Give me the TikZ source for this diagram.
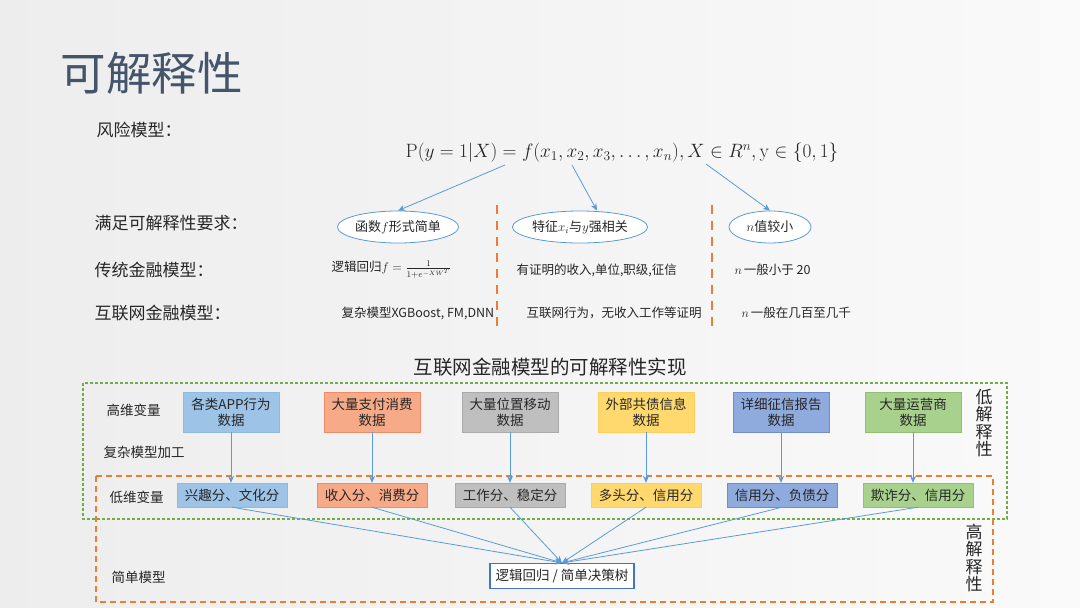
\RequirePackage{fix-cm}
\documentclass[tikz,border=0pt]{standalone}
\usepackage[no-math]{fontspec}
\setmainfont{Noto Sans CJK SC}
\setsansfont{Noto Sans CJK SC}
\usepackage{amsmath,amssymb}
\usetikzlibrary{arrows.meta,shapes.geometric,positioning}

\definecolor{titlegray}{RGB}{68,84,106}
\definecolor{linkblue}{RGB}{91,155,213}
\definecolor{dashorange}{RGB}{237,125,49}
\definecolor{dashgreen}{RGB}{112,173,71}
\definecolor{framedblue}{RGB}{68,114,196}
\definecolor{skyfill}{RGB}{157,195,230}   \definecolor{skyedge}{RGB}{143,184,226}
\definecolor{peachfill}{RGB}{246,170,135} \definecolor{peachedge}{RGB}{240,140,100}
\definecolor{greyfill}{RGB}{191,191,191}  \definecolor{greyedge}{RGB}{170,170,170}
\definecolor{sunfill}{RGB}{255,217,110}   \definecolor{sunedge}{RGB}{255,205,90}
\definecolor{navyfill}{RGB}{143,170,220}  \definecolor{navyedge}{RGB}{112,140,205}
\definecolor{leaffill}{RGB}{169,209,142}  \definecolor{leafedge}{RGB}{145,192,115}

\begin{document}
\begin{tikzpicture}[x=1pt,y=-1pt,
    every node/.style={text=black!85},
    rowlabel/.style={anchor=west, font=\fontsize{17}{20}\selectfont},
    sidelabel/.style={anchor=west, font=\fontsize{13.5}{16}\selectfont},
    cell/.style={font=\fontsize{12.5}{15}\selectfont},
    goal/.style={ellipse, draw=linkblue, thick, fill=white, minimum height=32pt, inner sep=0pt, font=\fontsize{13}{15}\selectfont},
    rawbox/.style={rectangle, fill=#1fill, draw=#1edge, minimum width=96pt, minimum height=40pt, align=center, inner sep=1pt, font=\fontsize{13.5}{16}\selectfont},
    scorebox/.style={rectangle, fill=#1fill, draw=#1edge, minimum width=110pt, minimum height=24pt, inner sep=1pt, font=\fontsize{13.5}{16}\selectfont},
    vtext/.style={align=center, font=\fontsize{17}{17.5}\selectfont},
    link/.style={-{Stealth[length=7pt,width=6pt]}, linkblue, line width=0.8pt},
    sep/.style={dashorange, line width=1.5pt, dash pattern=on 9pt off 7pt}
]
% background
\shade[left color=gray!14, right color=gray!4] (0,0) rectangle (1080,608);
\useasboundingbox (0,0) rectangle (1080,608);

% header
\node[anchor=west, text=titlegray, font=\fontsize{45.5}{50}\selectfont] (title) at (57,73) {可解释性};
\node[anchor=west, font=\fontsize{17}{20}\selectfont] (risk) at (93,130) {风险模型：};
\node[font=\fontsize{19.3}{23}\selectfont] (formula) at (622,153)
  {$\mathrm{P}(y=1|X)=f(x_1,x_2,x_3,\ldots,x_n),X\in R^n,\mathrm{y}\in\{0,1\}$};

% three requirements
\node[goal, minimum width=112pt] (g1) at (398,227) {函数$f$形式简单};
\node[goal, minimum width=128pt] (g2) at (580,227) {特征$x_i$与$y$强相关};
\node[goal, minimum width=82pt]  (g3) at (770,227) {$n$值较小};

\coordinate (f1) at (505,165);
\coordinate (f2) at (572,165);
\coordinate (f3) at (706,164);
\draw[link] (f1) -- (g1.north);
\draw[link] (f2) -- ([xshift=17pt]g2.north);
\draw[link] (f3) -- (g3.north);

\node[rowlabel] (need) at (91,223) {满足可解释性要求：};
\node[rowlabel] (trad) at (91,270) {传统金融模型：};
\node[rowlabel] (web)  at (91,313) {互联网金融模型：};

\node[cell, anchor=west] (t1) at (328,270) {逻辑回归$f=\frac{1}{1+e^{-XW^T}}$};
\node[cell, anchor=west] (t2) at (513,270) {有证明的收入,单位,职级,征信};
\node[cell, anchor=west] (t3) at (731,270) {$n$\,一般小于 20};
\node[cell, anchor=west] (w1) at (338,313) {复杂模型XGBoost, FM,DNN};
\node[cell, anchor=west] (w2) at (523,313) {互联网行为，无收入工作等证明};
\node[cell, anchor=west] (w3) at (738,313) {$n$\,一般在几百至几千};

\draw[sep] (497,205) -- (497,328);
\draw[sep] (712,205) -- (712,328);

% implementation
\node[font=\fontsize{19.5}{22}\selectfont] (impl) at (550,367) {互联网金融模型的可解释性实现};

\draw[dashgreen, line width=1.2pt, dash pattern=on 3pt off 2pt] (83,383) rectangle (1007,519);
\draw[dashorange, line width=1.2pt, dash pattern=on 6pt off 4pt] (96,476) rectangle (993,602);

\node[sidelabel] (hi)  at (103,410) {高维变量};
\node[sidelabel] (cx)  at (100,452) {复杂模型加工};
\node[sidelabel] (lo)  at (106,497) {低维变量};
\node[sidelabel] (sm)  at (108,577) {简单模型};
\node[vtext] (lowint)  at (984,423) {低\\解\\释\\性};
\node[vtext] (highint) at (974,558) {高\\解\\释\\性};

\node[rawbox=sky]   (r1) at (231,412) {各类APP行为\\数据};
\node[rawbox=peach] (r2) at (372,412) {大量支付消费\\数据};
\node[rawbox=grey]  (r3) at (510,412) {大量位置移动\\数据};
\node[rawbox=sun]   (r4) at (646,412) {外部共债信息\\数据};
\node[rawbox=navy]  (r5) at (781,412) {详细征信报告\\数据};
\node[rawbox=leaf]  (r6) at (913,412) {大量运营商\\数据};

\node[scorebox=sky]   (s1) at (232,495) {兴趣分、文化分};
\node[scorebox=peach] (s2) at (372,495) {收入分、消费分};
\node[scorebox=grey]  (s3) at (510,495) {工作分、稳定分};
\node[scorebox=sun]   (s4) at (646,495) {多头分、信用分};
\node[scorebox=navy]  (s5) at (782,495) {信用分、负债分};
\node[scorebox=leaf]  (s6) at (918,495) {欺诈分、信用分};

\node[draw=framedblue, line width=1.2pt, fill=white, minimum width=144pt, minimum height=25pt, inner sep=1pt,
      font=\fontsize{13.5}{16}\selectfont] (lr) at (562,576) {逻辑回归 / 简单决策树};

\foreach \i in {1,...,6} {
  \draw[link] (r\i.south) -- (r\i.south |- s\i.north);
  \draw[link] (s\i.south) -- (lr.north);
}
\end{tikzpicture}
\end{document}
